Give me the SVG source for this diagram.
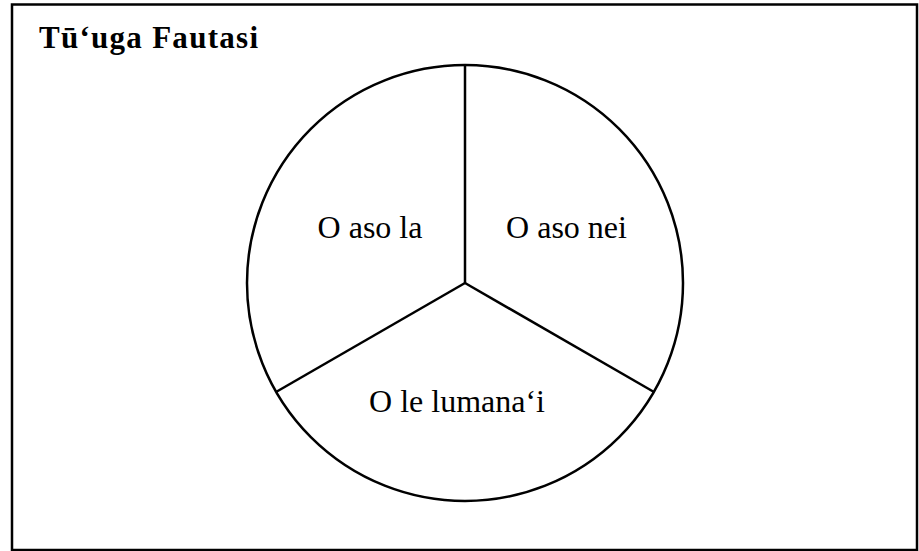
<svg xmlns="http://www.w3.org/2000/svg" width="919" height="551" viewBox="0 0 919 551">
<style>
.line{stroke:#000;stroke-width:2.5;fill:none}
.lbl{font-family:"Liberation Serif",serif;font-size:32px;fill:#000;text-anchor:middle}
.title{font-family:"Liberation Serif",serif;font-size:31px;font-weight:bold;fill:#000}
</style>
<rect x="0" y="0" width="919" height="551" fill="#fff"/>
<rect id="frame" x="12" y="4.5" width="905" height="545.5" fill="none" stroke="#000" stroke-width="2.5"/>
<g id="title"><text class="title" x="39" y="48" textLength="219" lengthAdjust="spacing">Tūʻuga Fautasi</text></g>
<g id="circle"><circle class="line" cx="465" cy="283" r="218"/></g>
<g id="connectors">
<line class="line" x1="465" y1="283" x2="465" y2="65"/>
<line class="line" x1="465" y1="283" x2="276" y2="392"/>
<line class="line" x1="465" y1="283" x2="654" y2="392"/>
</g>
<g id="node-la"><text class="lbl" x="370" y="238">O aso la</text></g>
<g id="node-nei"><text class="lbl" x="566.5" y="238">O aso nei</text></g>
<g id="node-lumanai"><text class="lbl" x="457" y="412">O le lumanaʻi</text></g>
</svg>
